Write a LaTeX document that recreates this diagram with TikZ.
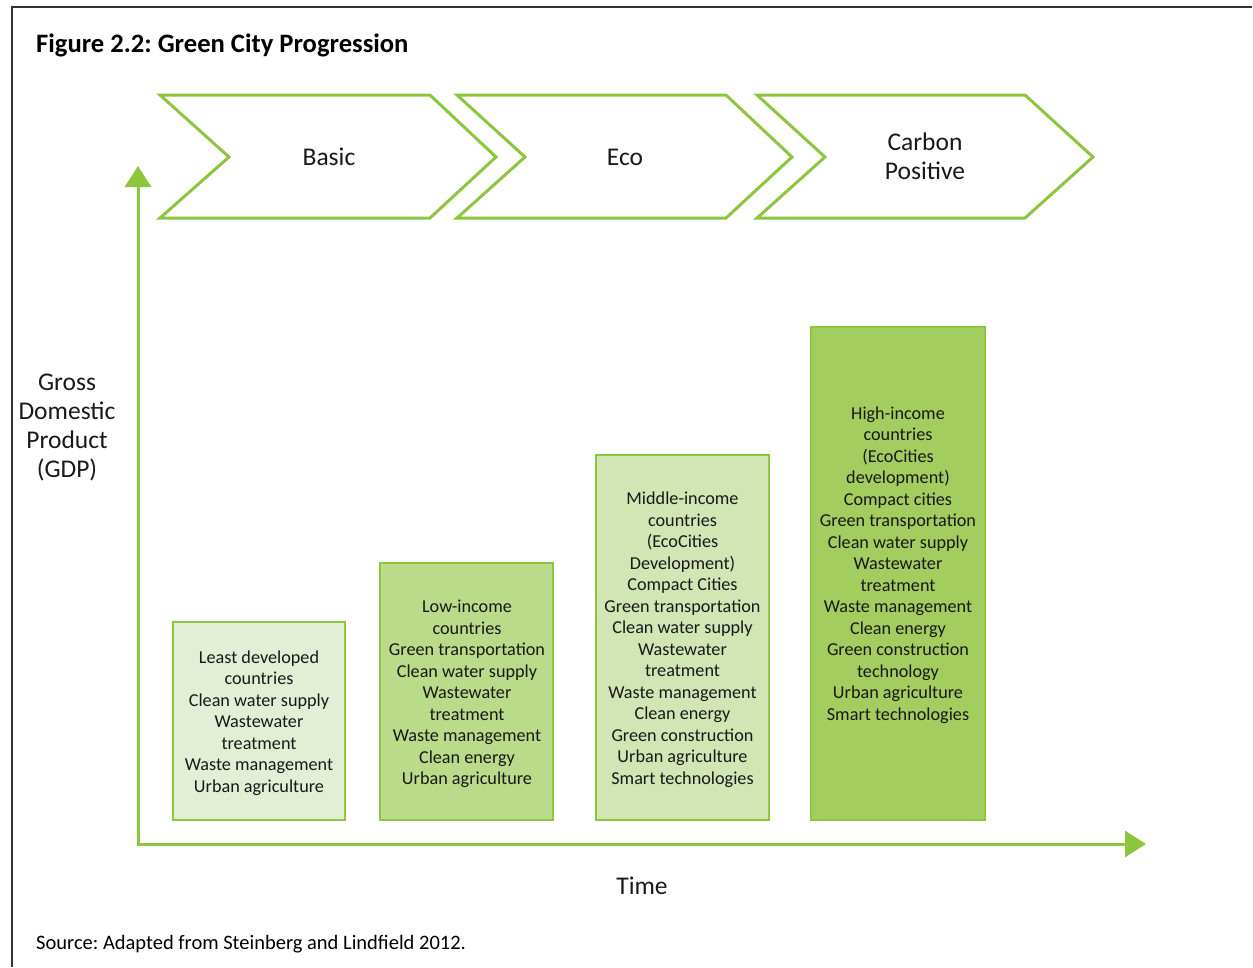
\documentclass[tikz,border=0pt]{standalone}
\usepackage{fontspec}
\setmainfont{Carlito}
\usetikzlibrary{arrows.meta}
\frenchspacing
\definecolor{gline}{HTML}{8CC63F}
\definecolor{fillA}{HTML}{E3EFD5}
\definecolor{fillB}{HTML}{B9DB8A}
\definecolor{fillC}{HTML}{D1E6B4}
\definecolor{fillD}{HTML}{A3CD5F}
\definecolor{framec}{HTML}{333333}
\tikzset{
  chev/.style={draw=gline, line width=3pt, line join=miter},
  chevtext/.style={font=\fontsize{25.5}{29}\selectfont, align=center, text=black!90},
  barbox/.style={draw=gline, line width=2.6pt},
  bartext/.style={font=\fontsize{18.2}{21.5}\selectfont, align=center, text=black!90},
  axis/.style={draw=gline, line width=3pt, -{Triangle[length=21pt,width=26pt]}},
  lbl/.style={font=\fontsize{25.5}{29}\selectfont, align=center, text=black!90}
}
\begin{document}
\begin{tikzpicture}[x=1pt,y=-1pt]
\useasboundingbox (0,0) rectangle (1253,967);
% frame
\draw[framec, line width=1.5pt] (12,967) -- (12,7) -- (1252,7);
% title
\node[anchor=west, font=\fontsize{26.6}{30}\selectfont\bfseries, inner xsep=0pt] (title) at (36,45.5) {Figure 2.2: Green City Progression};
% chevrons
\draw[chev] (160,95) -- (430,95) -- (496,157) -- (430,218) -- (160,218) -- (229,157) -- cycle;
\draw[chev] (457,95) -- (726,95) -- (792,157) -- (726,218) -- (457,218) -- (525,157) -- cycle;
\draw[chev] (757,95) -- (1025,95) -- (1093,157) -- (1025,218) -- (757,218) -- (825,157) -- cycle;
\node[chevtext] (basic) at (329,157) {Basic};
\node[chevtext] (eco) at (625,157) {Eco};
\node[chevtext] (carbon) at (925,156.5) {Carbon\\Positive};
% axes
\coordinate (O) at (138,844);
\coordinate (ytip) at (138,166);
\coordinate (xtip) at (1146,844);
\draw[axis] (138,845.5) -- (ytip);
\draw[axis] (136.5,844) -- (xtip);
\node[lbl] (gdp) at (67,427) {Gross\\Domestic\\Product\\(GDP)};
\node[lbl] (time) at (642,886) {Time};
% bars
\draw[barbox, fill=fillA] (173,622) rectangle (345,820);
\draw[barbox, fill=fillB] (380,563) rectangle (553,820);
\draw[barbox, fill=fillC] (596,455) rectangle (769,820);
\draw[barbox, fill=fillD] (811,327) rectangle (985,820);
\node[bartext] (b1) at (259,723) {Least developed\\countries\\Clean water supply\\Wastewater\\treatment\\Waste management\\Urban agriculture};
\node[bartext] (b2) at (467,694) {Low-income\\countries\\Green transportation\\Clean water supply\\Wastewater\\treatment\\Waste management\\Clean energy\\Urban agriculture};
\node[bartext] (b3) at (682.5,639.5) {Middle-income\\countries\\(EcoCities\\Development)\\Compact Cities\\Green transportation\\Clean water supply\\Wastewater\\treatment\\Waste management\\Clean energy\\Green construction\\Urban agriculture\\Smart technologies};
\node[bartext] (b4) at (898,565) {High-income\\countries\\(EcoCities\\development)\\Compact cities\\Green transportation\\Clean water supply\\Wastewater\\treatment\\Waste management\\Clean energy\\Green construction\\technology\\Urban agriculture\\Smart technologies};
% source
\node[anchor=west, font=\fontsize{20.5}{24}\selectfont, inner xsep=0pt] (src) at (36,944) {Source: Adapted from Steinberg and Lindfield 2012.};
\end{tikzpicture}
\end{document}
